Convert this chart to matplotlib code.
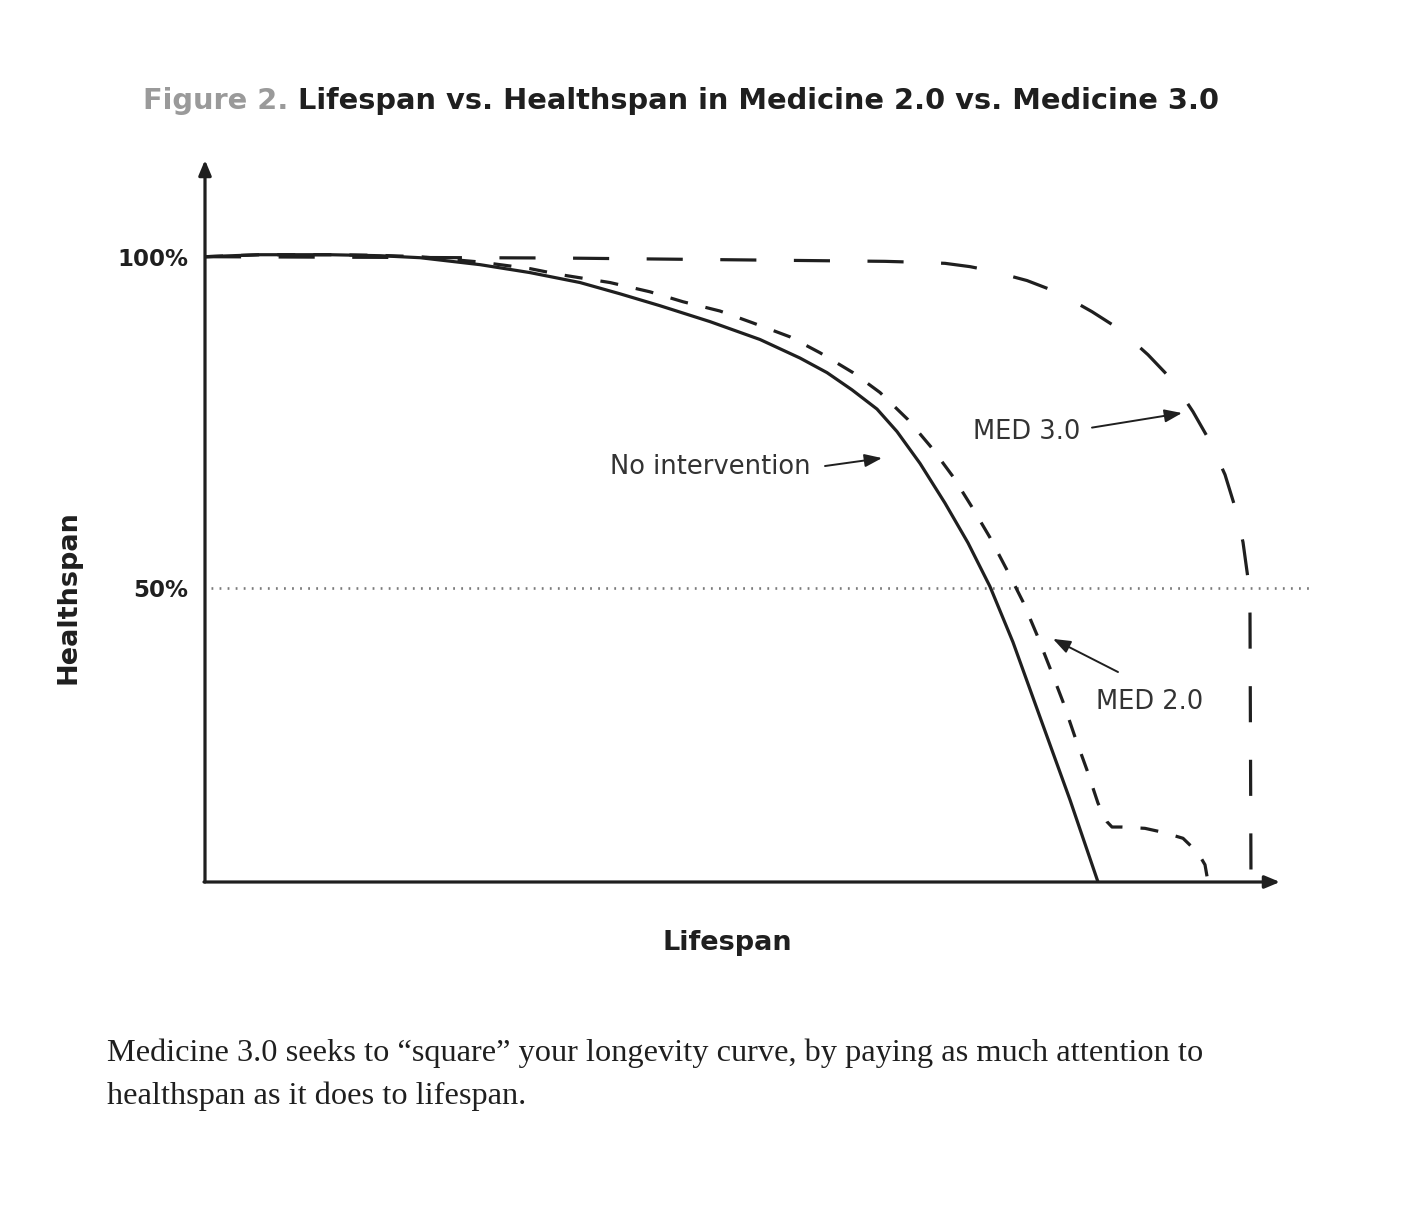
import matplotlib
matplotlib.use('Agg')
import matplotlib.pyplot as plt

plt.rcParams['font.family'] = ['DejaVu Sans']
plt.rcParams['lines.scale_dashes'] = False

INK = '#1f1f1f'

# Curves (lifespan in arbitrary units, healthspan in %)
none_x = [0, 5.5, 12.5, 17.5, 21.5, 27.5, 32.5, 37.5, 41.5, 45.5, 50.5, 55.5,
          59.5, 62.2, 64.7, 67.2, 69.2, 71.5, 74.0, 76.3, 78.5, 80.8, 83.5,
          86.5, 89.3]
none_y = [100, 100.3, 100.3, 100.15, 99.85, 98.8, 97.6, 96.1, 94.4, 92.6, 90.2,
          87.5, 84.7, 82.5, 79.9, 77.0, 73.6, 68.8, 62.8, 56.8, 50.2, 41.8,
          30.5, 18.0, 5.6]

med2_x = [0, 5.5, 12.5, 17.5, 21.5, 27.5, 32.5, 35.5, 40.5, 44.5, 47.8, 51.5,
          54.8, 58.5, 61.5, 64.8, 67.5, 70.3, 72.7, 74.8, 76.7, 78.5, 80.2,
          81.8, 83.2, 84.5, 85.8, 87.0, 88.2, 89.3, 90.2, 90.7, 91.7, 94.0,
          95.8, 97.8, 99.3, 100.0, 100.3]
med2_y = [100, 100.3, 100.3, 100.2, 100.0, 99.2, 98.2, 97.3, 96.1, 94.7, 93.2,
          91.8, 90.0, 87.9, 85.5, 82.5, 79.5, 75.4, 71.1, 66.8, 62.2, 57.6,
          52.7, 47.9, 42.9, 37.9, 32.8, 27.5, 22.5, 17.5, 14.7, 13.9, 13.9,
          13.7, 13.1, 12.2, 10.0, 8.2, 5.6]

med3_x = [0, 35.5, 68.0, 71.5, 74.0, 76.5, 78.5, 82.2, 85.3, 88.7, 91.5, 94.3,
          96.7, 98.8, 100.5, 102.0, 103.0, 103.8, 104.3, 104.5, 104.6]
med3_y = [100, 99.8, 99.3, 99.15, 99.0, 98.5, 97.9, 96.4, 94.6, 91.7, 89.0,
          85.2, 81.4, 76.6, 72.1, 67.1, 62.2, 56.9, 51.4, 46.1, 5.6]

tick_vals = [50, 100]
tick_labels = ['50%', '100%']

x_min, x_max = 0, 110.5
y_min, y_max = 5.6, 114.6
x_arrow_end = 107.5

fig = plt.figure(figsize=(14.08, 12.11), dpi=100)
ax = fig.add_axes([205 / 1408, 329 / 1211, 1105 / 1408, 722 / 1211])
ax.set_xlim(x_min, x_max)
ax.set_ylim(y_min, y_max)
for s in ax.spines.values():
    s.set_visible(False)
ax.set_xticks([])
ax.set_yticks(tick_vals)
ax.set_yticklabels(tick_labels, fontsize=16.5, fontweight='bold', color=INK)
ax.tick_params(axis='y', length=0, pad=12)

# 50% reference
ax.axhline(50, xmin=0.005, xmax=1.0, color='#7a7a7a', lw=1.9,
           dashes=(1.3, 4.5), zorder=1)

# curves
ax.plot(none_x, none_y, color=INK, lw=2.3, solid_capstyle='butt',
        solid_joinstyle='round', zorder=3)
ax.plot(med2_x, med2_y, color=INK, lw=2.3, dashes=(13, 13), zorder=3)
ax.plot(med3_x, med3_y, color=INK, lw=2.3, dashes=(26, 27), zorder=3)

# axes with arrow heads
axis_arrow = dict(arrowstyle='-|>,head_length=0.6,head_width=0.25',
                  color=INK, lw=2.3, mutation_scale=15, shrinkA=0, shrinkB=0)
ax.annotate('', xy=(0, y_max), xytext=(0, y_min), arrowprops=axis_arrow,
            annotation_clip=False)
ax.annotate('', xy=(x_arrow_end, y_min), xytext=(-0.1, y_min),
            arrowprops=axis_arrow, annotation_clip=False)

# labels with pointers
ptr = dict(arrowstyle='-|>,head_length=0.75,head_width=0.28', color=INK,
           lw=1.4, mutation_scale=14, shrinkA=0, shrinkB=0)
lab = dict(fontsize=18.5, color='#333333', ha='center', va='center')
ax.text(50.5, 68.3, 'No intervention', **lab)
ax.annotate('', xy=(67.7, 69.6), xytext=(62.0, 68.4), arrowprops=ptr)
ax.text(82.2, 73.6, 'MED 3.0', **lab)
ax.annotate('', xy=(97.7, 76.4), xytext=(88.7, 74.2), arrowprops=ptr)
ax.text(94.5, 32.8, 'MED 2.0', **lab)
ax.annotate('', xy=(84.8, 42.3), xytext=(91.3, 37.3), arrowprops=ptr)

# axis titles
fig.text(68 / 1408, 1 - 597 / 1211, 'Healthspan', rotation=90, fontsize=19.5,
         fontweight='bold', color=INK, ha='center', va='center')
fig.text(727 / 1408, 1 - 943 / 1211, 'Lifespan', fontsize=19.5,
         fontweight='bold', color=INK, ha='center', va='center')

# title in two colours
t1 = fig.text(143 / 1408, 1 - 109 / 1211, 'Figure 2.', fontsize=20.8,
              fontweight='bold', color='#9a9a9a', ha='left', va='baseline')
fig.canvas.draw()
bb = t1.get_window_extent()
fig.text(bb.x1 / fig.bbox.width, 1 - 109 / 1211,
         ' Lifespan vs. Healthspan in Medicine 2.0 vs. Medicine 3.0',
         fontsize=20.8, fontweight='bold', color=INK, ha='left', va='baseline')

# caption
cap = dict(fontsize=23.3, family='Liberation Serif', color=INK, ha='left',
           va='baseline')
fig.text(107 / 1408, 1 - 1061 / 1211,
         'Medicine 3.0 seeks to \u201csquare\u201d your longevity curve, by paying as much attention to',
         **cap)
fig.text(107 / 1408, 1 - 1104 / 1211, 'healthspan as it does to lifespan.', **cap)

fig.savefig('out.png', dpi=100, facecolor='white')
